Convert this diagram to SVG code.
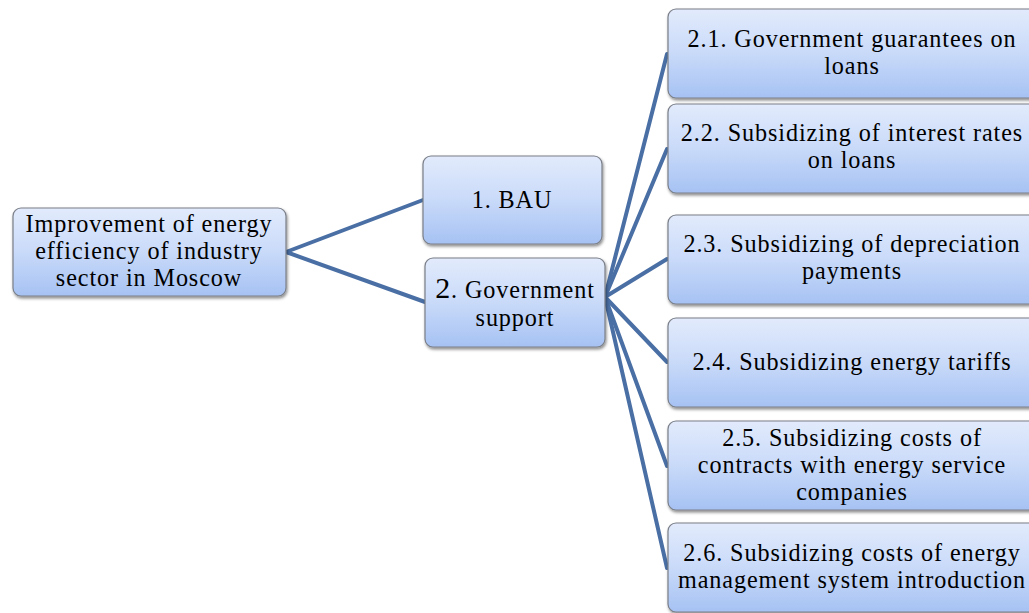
<svg xmlns="http://www.w3.org/2000/svg" width="1029" height="613" viewBox="0 0 1029 613">
<defs>
<linearGradient id="g" x1="0" y1="0" x2="0" y2="1">
<stop offset="0" stop-color="#e2ebfc"/>
<stop offset="0.5" stop-color="#c9daf9"/>
<stop offset="1" stop-color="#a6c2f3"/>
</linearGradient>
<filter id="sh" x="-10%" y="-10%" width="120%" height="130%">
<feDropShadow dx="1" dy="2" stdDeviation="1.5" flood-color="#000" flood-opacity="0.45"/>
</filter>
</defs>
<style>
.box{fill:url(#g);stroke:#7a7f88;stroke-width:1.2;filter:url(#sh)}
.t{font-family:"Liberation Serif","Times New Roman",serif;font-size:24.2px;letter-spacing:0.9px;fill:#000;text-anchor:middle}
.c{stroke:#4a6fa5;stroke-width:4;fill:none;stroke-linecap:round}
</style>
<rect width="1029" height="613" fill="#fff"/>
<g id="connectors">
<line class="c" x1="286" y1="252" x2="423" y2="200"/>
<line class="c" x1="286" y1="252" x2="425" y2="302"/>
<line class="c" x1="605" y1="297" x2="667" y2="54"/>
<line class="c" x1="605" y1="297" x2="667" y2="149"/>
<line class="c" x1="605" y1="297" x2="667" y2="259"/>
<line class="c" x1="605" y1="297" x2="667" y2="362"/>
<line class="c" x1="605" y1="297" x2="667" y2="466"/>
<line class="c" x1="605" y1="297" x2="667" y2="568"/>
</g>
<g id="root">
<rect class="box" x="13" y="208" width="273" height="88" rx="8"/>
<text class="t" x="149" y="232">Improvement of energy</text>
<text class="t" x="149" y="259">efficiency of industry</text>
<text class="t" x="149" y="286">sector in Moscow</text>
</g>
<g id="n1">
<rect class="box" x="423" y="156" width="179" height="88" rx="8"/>
<text class="t" x="512" y="208">1. BAU</text>
</g>
<g id="n2">
<rect class="box" x="425" y="258" width="180" height="89" rx="8"/>
<text class="t" x="515" y="298"><tspan font-size="30">2</tspan>. Government</text>
<text class="t" x="515" y="326">support</text>
</g>
<g id="n21">
<rect class="box" x="668" y="9" width="370" height="89" rx="8"/>
<text class="t" x="852" y="47">2.1. Government guarantees on</text>
<text class="t" x="852" y="74">loans</text>
</g>
<g id="n22">
<rect class="box" x="668" y="104" width="370" height="89" rx="8"/>
<text class="t" x="852" y="141">2.2. Subsidizing of interest rates</text>
<text class="t" x="852" y="168">on loans</text>
</g>
<g id="n23">
<rect class="box" x="668" y="215" width="370" height="89" rx="8"/>
<text class="t" x="852" y="252">2.3. Subsidizing of depreciation</text>
<text class="t" x="852" y="279">payments</text>
</g>
<g id="n24">
<rect class="box" x="668" y="318" width="370" height="89" rx="8"/>
<text class="t" x="852" y="370">2.4. Subsidizing energy tariffs</text>
</g>
<g id="n25">
<rect class="box" x="668" y="421" width="370" height="89" rx="8"/>
<text class="t" x="852" y="446">2.5. Subsidizing costs of</text>
<text class="t" x="852" y="473">contracts with energy service</text>
<text class="t" x="852" y="500">companies</text>
</g>
<g id="n26">
<rect class="box" x="668" y="523" width="370" height="89" rx="8"/>
<text class="t" x="852" y="561">2.6. Subsidizing costs of energy</text>
<text class="t" x="852" y="588">management system introduction</text>
</g>
</svg>
